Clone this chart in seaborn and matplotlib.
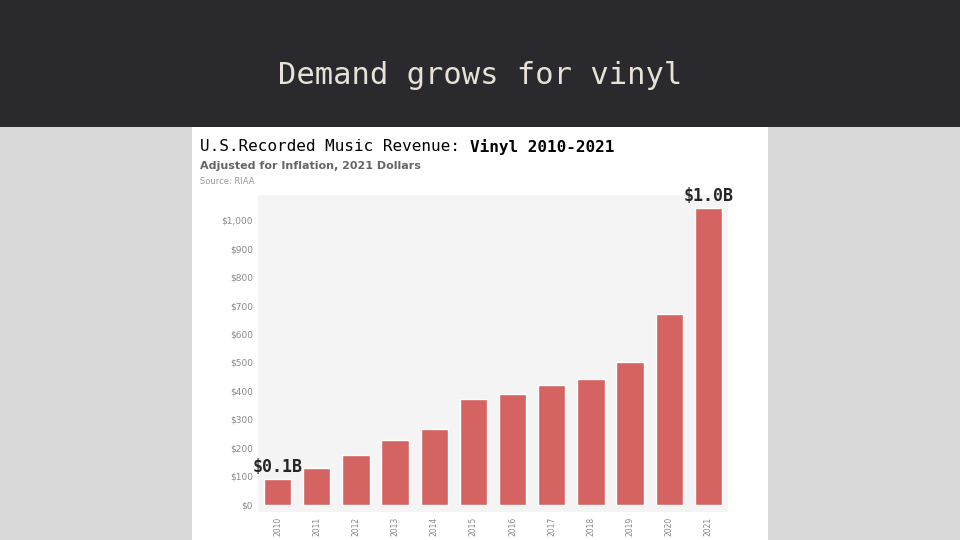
import matplotlib
matplotlib.use("Agg")
import matplotlib.pyplot as plt
import seaborn as sns
import pandas as pd
from matplotlib.patches import Rectangle

# 데이터
years = [str(y) for y in range(2010, 2022)]
revenue = [91, 130, 175, 228, 267, 372, 389, 421, 442, 502, 670, 1042]
yticks = [0, 100, 200, 300, 400, 500, 600, 700, 800, 900, 1000]
ytick_labels = ["$0", "$100", "$200", "$300", "$400", "$500", "$600", "$700", "$800", "$900", "$1,000"]

df = pd.DataFrame({"year": years, "revenue": revenue})

sns.set_style("white")
fig = plt.figure(figsize=(9.6, 5.4), dpi=100)
fig.patch.set_facecolor("#d9d9d9")

# 배경용 축 (상단 어두운 띠와 흰 패널)
bg = fig.add_axes([0, 0, 1, 1], zorder=-1)
bg.set_xlim(0, 960)
bg.set_ylim(540, 0)
bg.axis("off")
bg.add_patch(Rectangle((0, 0), 960, 127, facecolor="#2a2a2e", edgecolor="none"))
bg.add_patch(Rectangle((192, 127), 576, 413, facecolor="white", edgecolor="none"))

fig.text(0.5, 1 - 75 / 540, "Demand grows for vinyl", ha="center", va="center",
         color="#e8e2d6", fontsize=22, family="DejaVu Sans Mono")

fig.text(200 / 960, 1 - 147 / 540, "U.S.Recorded Music Revenue: ", ha="left", va="center",
         fontsize=11.5, family="DejaVu Sans Mono", color="black")
fig.text(470 / 960, 1 - 147 / 540, "Vinyl 2010-2021", ha="left", va="center",
         fontsize=11.5, family="DejaVu Sans Mono", weight="bold", color="black")
fig.text(200 / 960, 1 - 166 / 540, "Adjusted for Inflation, 2021 Dollars", ha="left", va="center",
         fontsize=8, weight="bold", color="#666666")
fig.text(200 / 960, 1 - 181 / 540, "Source: RIAA", ha="left", va="center",
         fontsize=6, color="#999999")

ax = fig.add_axes([258 / 960, 1 - 512 / 540, 470 / 960, 317 / 540], zorder=1)
ax.set_facecolor("#f4f4f4")
sns.barplot(data=df, x="year", y="revenue", color="#d46362", saturation=1, width=0.7, ax=ax)
ax.set_ylim(-25, 1088)
ax.set_yticks(yticks)
ax.set_yticklabels(ytick_labels, fontsize=6.5, color="#888888")
ax.tick_params(axis="x", labelrotation=90, labelsize=5.5, labelcolor="#888888", length=0)
ax.tick_params(axis="y", length=0)
ax.set_xlabel("")
ax.set_ylabel("")
for s in ax.spines.values():
    s.set_visible(False)

ax.text(0, revenue[0] + 12, "$0.1B", ha="center", va="bottom", fontsize=12,
        weight="bold", family="DejaVu Sans Mono")
ax.text(11, revenue[-1] + 12, "$1.0B", ha="center", va="bottom", fontsize=12,
        weight="bold", family="DejaVu Sans Mono")

fig.savefig("out.png", dpi=100, facecolor=fig.get_facecolor())
